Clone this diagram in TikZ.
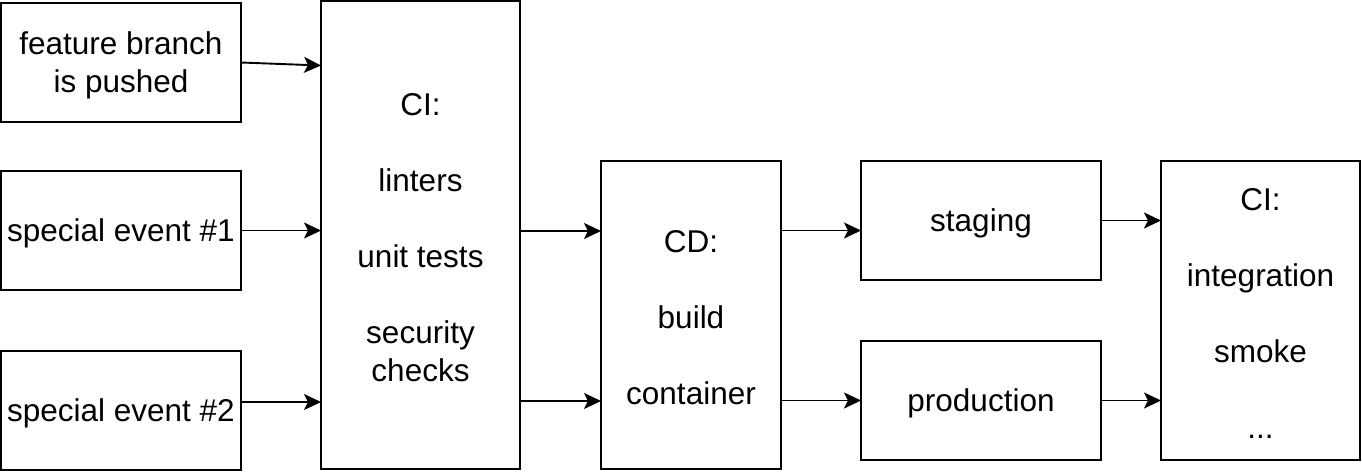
\documentclass[tikz,border=0pt]{standalone}
\usepackage{fontspec}
\setmainfont{Liberation Sans}
\usetikzlibrary{arrows.meta}
\begin{document}
\begin{tikzpicture}[x=1pt,y=1pt,
  box/.style={draw=black,line width=2pt,rectangle,inner sep=0pt,outer sep=0pt},
  txt/.style={align=center,inner sep=0pt,yshift=-3pt,font=\fontsize{31.5}{38}\selectfont},
  arr/.style={line width=1.9pt,-{Stealth[length=17pt,width=16pt,inset=4pt]}}]
\useasboundingbox (0,0) rectangle (1362,-472);
\node[box,minimum width=240pt,minimum height=119pt,label={[txt]center:feature branch\\is pushed}] (A) at (121,-62.5) {};
\node[box,minimum width=240pt,minimum height=119pt,label={[txt]center:special event \#1}] (B) at (121,-230.5) {};
\node[box,minimum width=240pt,minimum height=119pt,label={[txt]center:special event \#2}] (C) at (121,-410.5) {};
\node[box,minimum width=199pt,minimum height=468pt,label={[txt]center:CI:\\[38pt]linters\\[38pt]unit tests\\[38pt]security\\checks}] (CI) at (420.5,-235) {};
\node[box,minimum width=180pt,minimum height=308pt,label={[txt]center:CD:\\[38pt]build\\[38pt]container}] (CD) at (691,-315) {};
\node[box,minimum width=240pt,minimum height=119pt,label={[txt]center:staging}] (ST) at (981,-220.5) {};
\node[box,minimum width=240pt,minimum height=119pt,label={[txt]center:production}] (PR) at (981,-400.5) {};
\node[box,minimum width=199pt,minimum height=299pt,label={[txt]center:CI:\\[38pt]integration\\[38pt]smoke\\[38pt]...}] (CI2) at (1260.5,-310.5) {};
\draw[arr] (A.east) -- ([yshift=-64.5pt]CI.north west);
\draw[arr] (B.east) -- (B.east -| CI.west);
\draw[arr] ([yshift=8.5pt]C.east) -- ([yshift=8.5pt]C.east -| CI.west);
\draw[arr] ([yshift=84pt]CD.west -| CI.east) -- ([yshift=84pt]CD.west);
\draw[arr] ([yshift=-86pt]CD.west -| CI.east) -- ([yshift=-86pt]CD.west);
\draw[arr] ([yshift=-10pt]ST.west -| CD.east) -- ([yshift=-10pt]ST.west);
\draw[arr] (PR.west -| CD.east) -- (PR.west);
\draw[arr] (ST.east) -- (ST.east -| CI2.west);
\draw[arr] (PR.east) -- (PR.east -| CI2.west);
\end{tikzpicture}
\end{document}
